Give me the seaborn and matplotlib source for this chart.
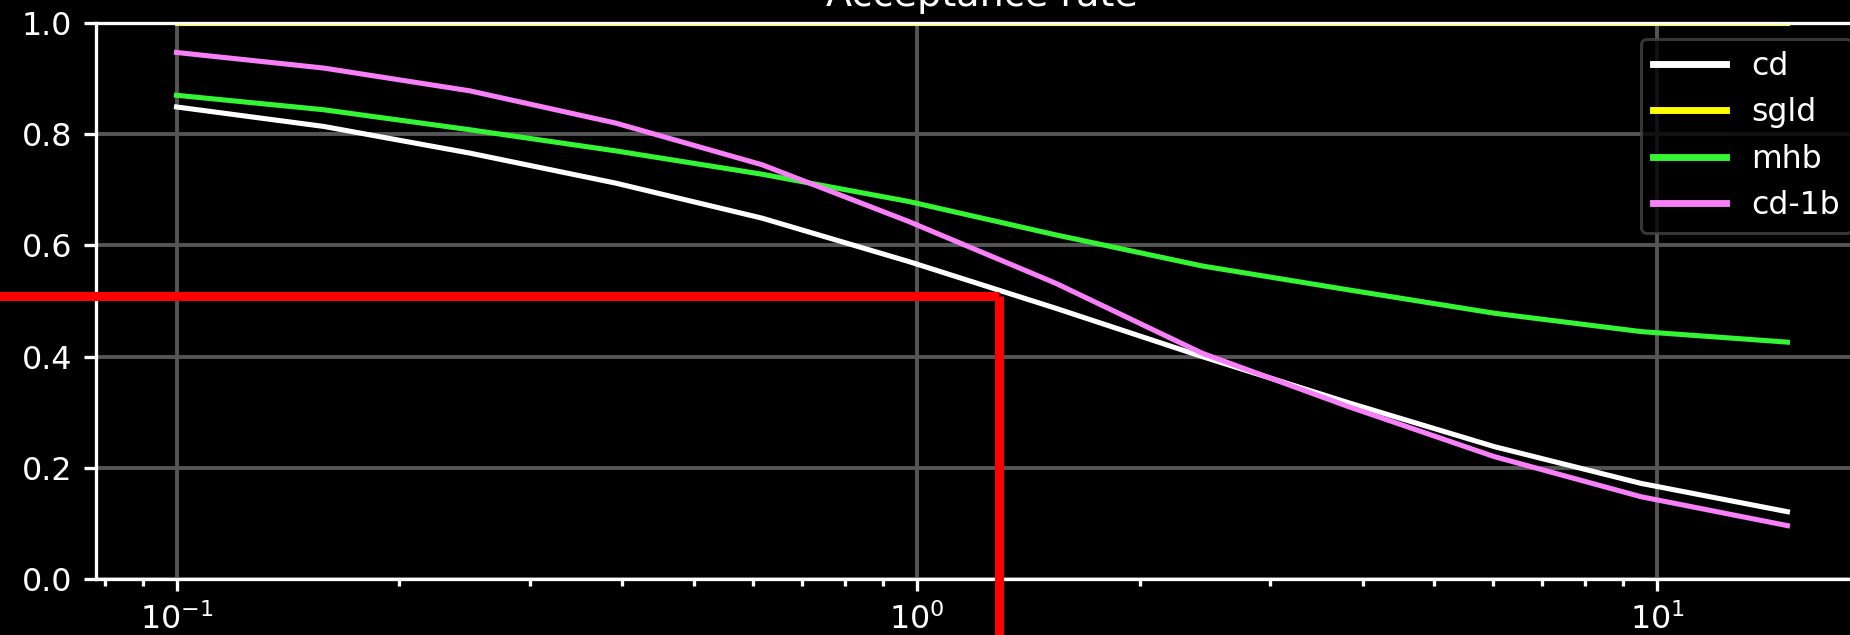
import numpy as np
import pandas as pd
import matplotlib
matplotlib.use("Agg")
import matplotlib.pyplot as plt
import seaborn as sns

# step sizes on the log axis
step_size = [0.1, 0.158, 0.249, 0.392, 0.618, 0.975, 1.54, 2.43, 3.83, 6.03, 9.51, 15.0]

# acceptance rate per sampler
cd = [0.849, 0.814, 0.766, 0.712, 0.649, 0.571, 0.487, 0.400, 0.317, 0.238, 0.172, 0.121]
sgld = [1.0, 1.0, 1.0, 1.0, 1.0, 1.0, 1.0, 1.0, 1.0, 1.0, 1.0, 1.0]
mhb = [0.870, 0.844, 0.808, 0.770, 0.728, 0.679, 0.619, 0.563, 0.520, 0.478, 0.445, 0.426]
cd_1b = [0.947, 0.919, 0.878, 0.820, 0.745, 0.643, 0.532, 0.406, 0.310, 0.220, 0.148, 0.096]

series_names = ["cd", "sgld", "mhb", "cd-1b"]
series_values = [cd, sgld, mhb, cd_1b]
series_colors = ["#ffffff", "#ffff00", "#33f533", "#f77ff7"]

# highlighted operating point
mark_x = 1.293
mark_y = 0.509

plt.style.use("dark_background")
plt.rcParams["font.family"] = ["DejaVu Sans"]

dpi = 216
fig = plt.figure(figsize=(1850 / dpi, 635 / dpi), dpi=dpi)
ax = fig.add_axes([96 / 1850, 56 / 635, (1868 - 96) / 1850, (579 - 23) / 635])
ax.set_facecolor("black")
ax.set_xscale("log")

frames = []
for name, vals in zip(series_names, series_values):
    frames.append(pd.DataFrame({"step": step_size, "rate": vals, "sampler": name}))
df = pd.concat(frames, ignore_index=True)

for name, color in zip(series_names, series_colors):
    sub = df[df["sampler"] == name]
    sns.lineplot(data=sub, x="step", y="rate", ax=ax, color=color, label=name,
                 linewidth=1.7, estimator=None, sort=False)

ax.set_ylim(0, 1.0)
ax.set_xlabel("")
ax.set_ylabel("")
ax.grid(True, which="major", color="#555555", linewidth=1.3)
ax.set_axisbelow(True)
for s in ax.spines.values():
    s.set_color("white")
    s.set_linewidth(1.1)
ax.tick_params(colors="white", which="both", width=1.1, labelsize=10.6)
ax.tick_params(which="major", length=4.0, pad=4.0)
ax.tick_params(which="minor", length=2.2)
ax.set_title("Acceptance rate", color="white", pad=5.5, fontsize=12.7)

leg = ax.legend(loc="upper right", facecolor="black", edgecolor="#444444",
                framealpha=0.8, handlelength=2.3, fontsize=10.5,
                labelspacing=0.48)
for t in leg.get_texts():
    t.set_color("white")
for ln in leg.get_lines():
    ln.set_linewidth(2.3)

# red guide lines marking the operating point
ax.hlines(mark_y, 0.03, mark_x, colors="#ff0000", linewidth=3.0, clip_on=False,
          capstyle="butt", zorder=5)
ax.vlines(mark_x, -0.3, mark_y, colors="#ff0000", linewidth=3.0, clip_on=False,
          capstyle="butt", zorder=5)

fig.savefig("out.png", dpi=dpi, facecolor="black")
